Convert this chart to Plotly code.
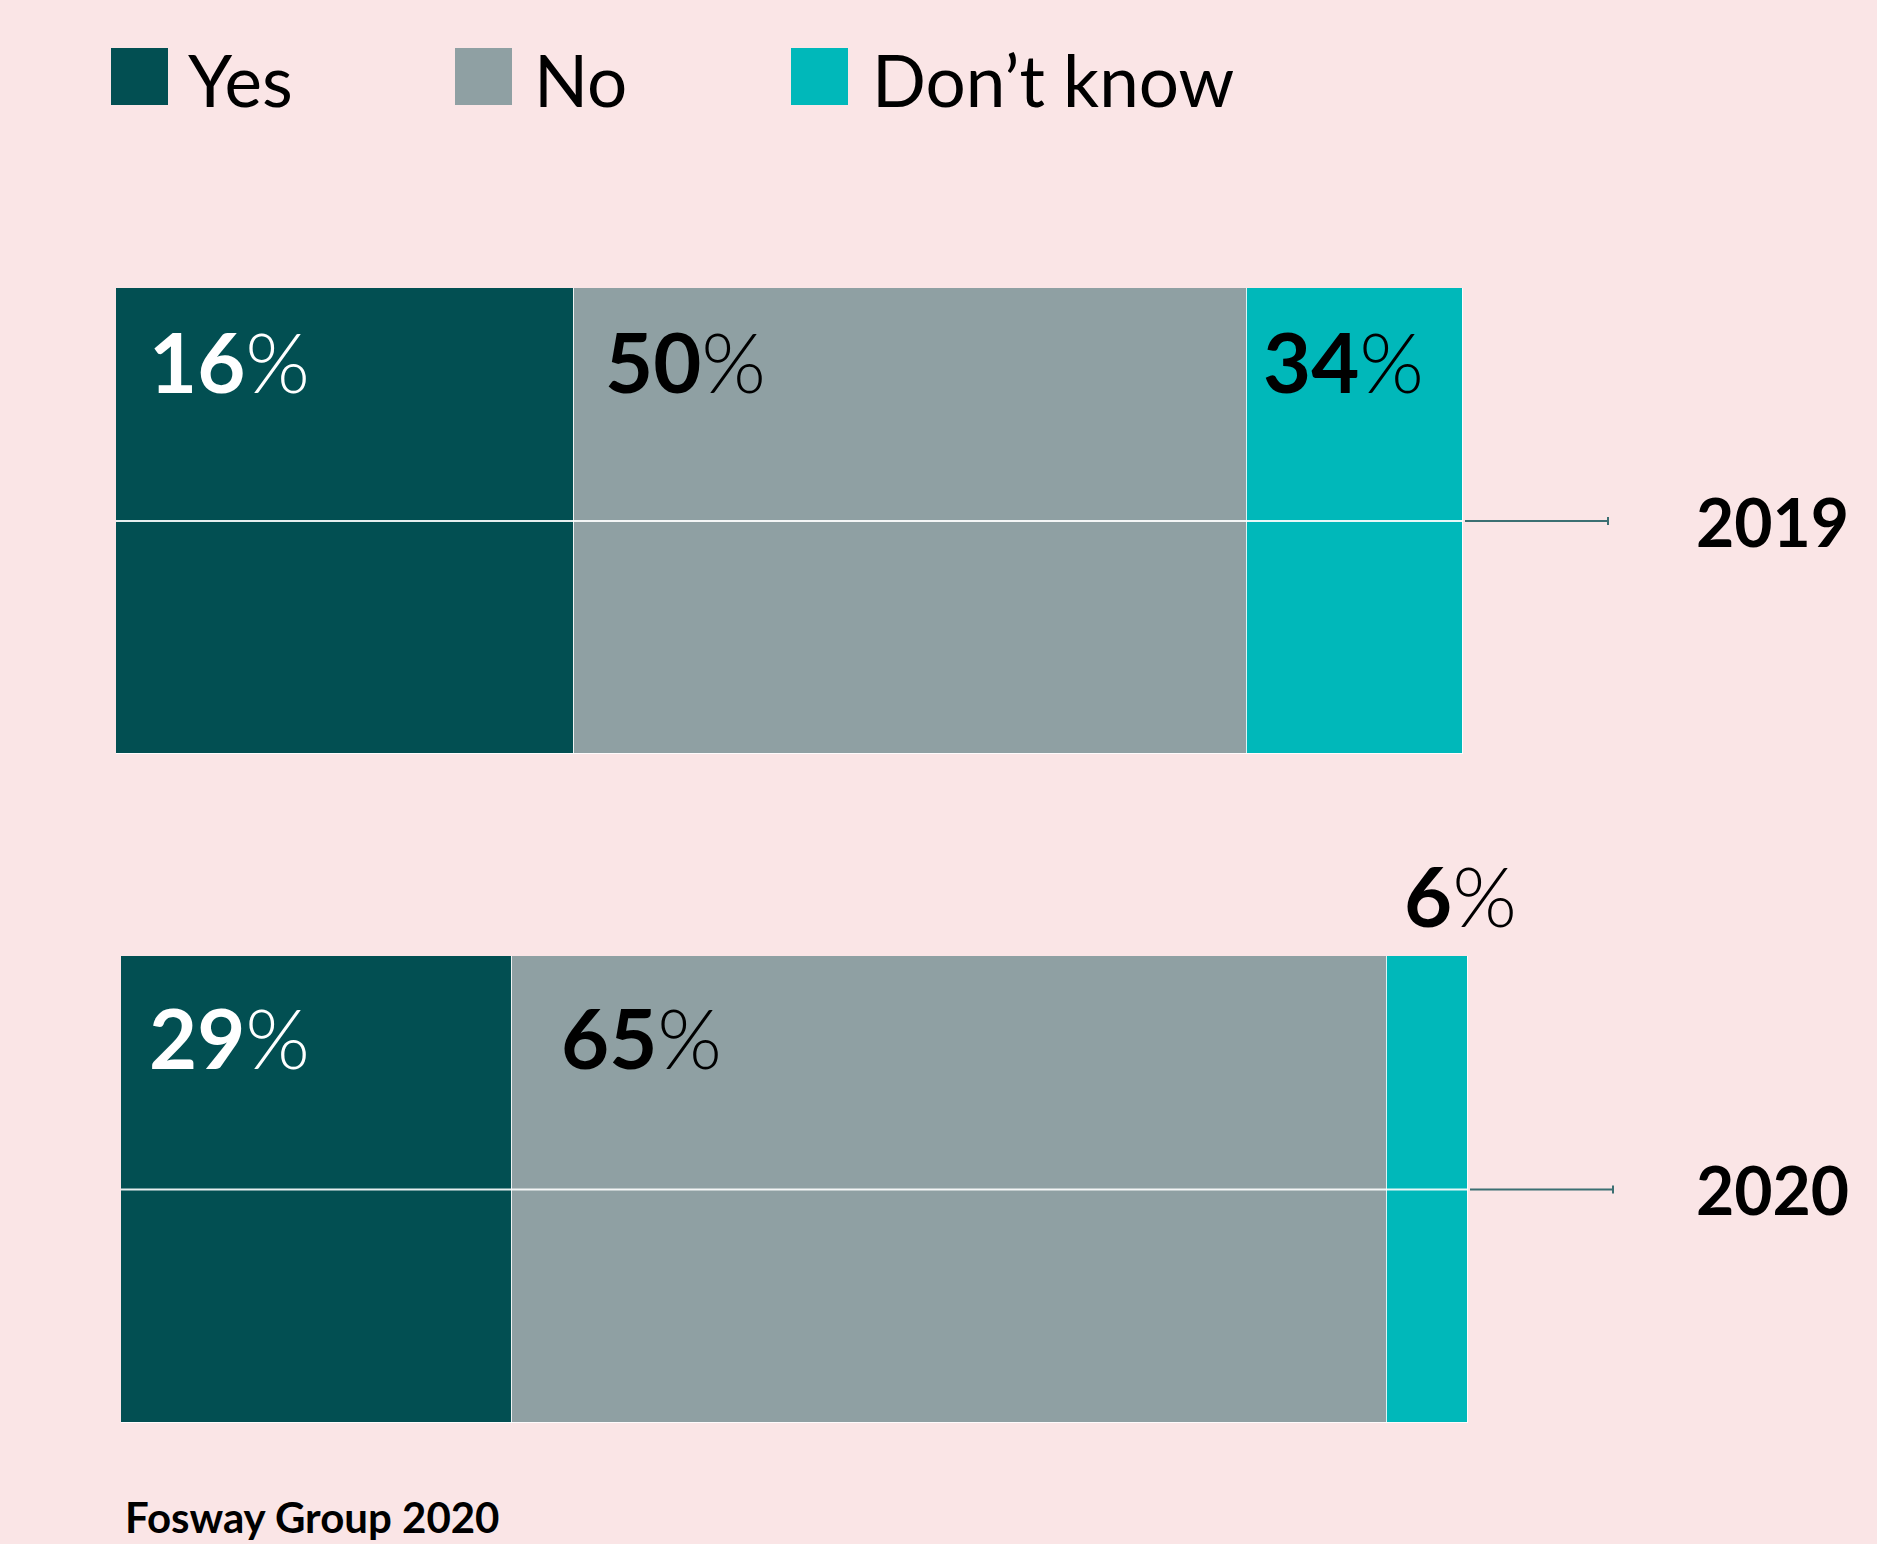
import plotly.graph_objects as go

# ---------------- data ----------------
years = ["2019", "2020"]
series = ["Yes", "No", "Don’t know"]
# segment lengths as drawn in the chart (percent of bar)
yes_vals = [34, 29]
no_vals = [50, 65]
dk_vals = [16, 6]
# labels as printed on the chart
yes_labels = ["16%", "29%"]
no_labels = ["50%", "65%"]
dk_labels = ["34%", "6%"]
source_text = "Fosway Group 2020"

# ---------------- style ----------------
W, H = 1877, 1544
BG = "#fae5e6"
colors = ["#024f52", "#8fa0a3", "#00b8ba"]
label_colors = ["white", "black", "black"]
FONT = "Lato, 'Open Sans', sans-serif"

def fx(p):
    return p / W

def fy(p):
    return 1 - p / H

# pixel boxes of each year's bar area (left, right, top, bottom)
boxes = [(116, 1463, 288, 754), (121, 1468, 956, 1423)]
# label placement: x shift (px) from segment start, y in axis-domain fraction
label_xshift = [[31, 29, 14], [26, 47, 15]]
label_ydom = [[0.844, 0.844, 0.844], [0.8255, 0.8255, 1.131]]

values = [yes_vals, no_vals, dk_vals]
labels = [yes_labels, no_labels, dk_labels]

fig = go.Figure()
layout_axes = {}
shapes = []
annotations = []

for j, yr in enumerate(years):
    sfx = "" if j == 0 else str(j + 1)
    xa, ya = "x" + sfx, "y" + sfx
    l, r, t, b = boxes[j]
    layout_axes["xaxis" + sfx] = dict(domain=[fx(l), fx(r)], range=[0, 100], anchor=ya,
                                      visible=False, fixedrange=True)
    layout_axes["yaxis" + sfx] = dict(domain=[fy(b), fy(t)], range=[-0.5, 0.5], anchor=xa,
                                      visible=False, fixedrange=True, type="category")
    for i, name in enumerate(series):
        fig.add_trace(go.Bar(
            x=[values[i][j]], y=[yr], orientation="h", name=name,
            marker=dict(color=colors[i], line=dict(color="rgba(255,255,255,0.85)", width=1.5)),
            xaxis=xa, yaxis=ya, showlegend=False, hoverinfo="skip",
        ))
    # middle separator
    shapes.append(dict(type="line", xref=xa, yref=ya, x0=0, x1=100, y0=0, y1=0,
                       line=dict(color="rgba(255,255,255,0.9)", width=2), layer="above"))
    # connector to year label
    ymid = fy((t + b) / 2)
    x_end = fx(r + 145)
    shapes.append(dict(type="line", xref="paper", yref="paper", x0=fx(r + 2), x1=x_end,
                       y0=ymid, y1=ymid, line=dict(color="#3b6f72", width=2)))
    shapes.append(dict(type="line", xref="paper", yref="paper", x0=x_end, x1=x_end,
                       y0=ymid - 4 / H, y1=ymid + 4 / H, line=dict(color="#3b6f72", width=2)))
    annotations.append(dict(text="<b>%s</b>" % yr, xref="paper", yref="paper",
                            x=fx(1851), y=ymid, xanchor="right", yanchor="middle",
                            showarrow=False, font=dict(family=FONT, size=66, color="black")))
    # percent labels
    cum = 0
    for i in range(3):
        lab = labels[i][j]
        txt = "<b>%s</b>%%" % lab.rstrip("%")
        annotations.append(dict(text=txt, xref=xa, yref=ya + " domain", x=cum,
                                y=label_ydom[j][i], xanchor="left", yanchor="middle",
                                xshift=label_xshift[j][i], showarrow=False,
                                font=dict(family=FONT, size=83, color=label_colors[i], weight=300)))
        cum += values[i][j]

# legend (manual)
sw_x = [111, 455, 791]
txt_x = [189, 535, 873]
for i, name in enumerate(series):
    shapes.append(dict(type="rect", xref="paper", yref="paper", x0=fx(sw_x[i]), x1=fx(sw_x[i] + 57),
                       y0=fy(105), y1=fy(48), fillcolor=colors[i], line=dict(width=0)))
    annotations.append(dict(text=name, xref="paper", yref="paper", x=fx(txt_x[i] - 3), y=fy(80),
                            xanchor="left", yanchor="middle", showarrow=False,
                            font=dict(family=FONT, size=71, color="black")))

annotations.append(dict(text="<b>%s</b>" % source_text, xref="paper", yref="paper",
                        x=fx(123), y=fy(1517), xanchor="left", yanchor="middle", showarrow=False,
                        font=dict(family=FONT, size=42, color="black")))

fig.update_layout(
    width=W, height=H, margin=dict(l=0, r=0, t=0, b=0),
    paper_bgcolor=BG, plot_bgcolor=BG, barmode="stack", bargap=0,
    shapes=shapes, annotations=annotations, showlegend=False,
    **layout_axes,
)
fig.write_html("out.html")
